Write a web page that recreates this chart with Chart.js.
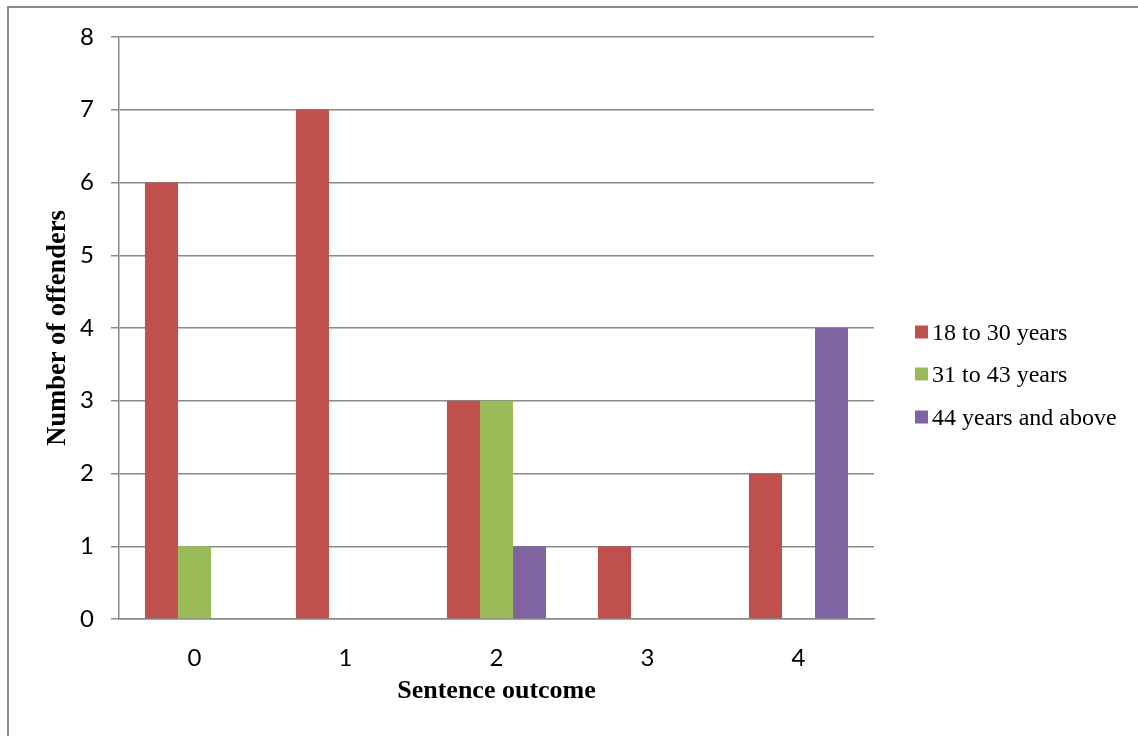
<!DOCTYPE html>
<html>
<head>
<meta charset="utf-8">
<script src="https://cdn.jsdelivr.net/npm/chart.js@4"></script>
<style>
  html, body { margin: 0; padding: 0; background: #fff; }
  #wrap { width: 1138px; height: 736px; position: relative; }
</style>
</head>
<body>
<div id="wrap"><canvas id="c" width="1138" height="736"></canvas></div>
<script>
const categories = ["0", "1", "2", "3", "4"];
const seriesNames = ["18 to 30 years", "31 to 43 years", "44 years and above"];
const age18to30 = [6, 7, 3, 1, 2];
const age31to43 = [1, 0, 3, 0, 0];
const age44plus = [0, 0, 1, 0, 4];
const colors = ["#C0504D", "#9BBB59", "#8064A2"];
const yMax = 8;

const frame = {
  id: 'frame',
  beforeDraw(chart) {
    const ctx = chart.ctx;
    ctx.save();
    ctx.fillStyle = '#fff';
    ctx.fillRect(0, 0, chart.width, chart.height);
    ctx.strokeStyle = '#8a8a8a';
    ctx.lineWidth = 2;
    ctx.beginPath();
    ctx.moveTo(8, chart.height);
    ctx.lineTo(8, 7);
    ctx.lineTo(chart.width, 7);
    ctx.stroke();
    ctx.restore();
  }
};

const sideLegend = {
  id: 'sideLegend',
  afterDraw(chart) {
    const ctx = chart.ctx;
    ctx.save();
    ctx.font = '24px "Liberation Serif", "Times New Roman", serif';
    ctx.textBaseline = 'alphabetic';
    ctx.textAlign = 'left';
    const rows = [332, 374, 417];
    chart.data.datasets.forEach((ds, i) => {
      const y = rows[i];
      ctx.fillStyle = ds.backgroundColor;
      ctx.fillRect(915, y - 6.5, 13, 13);
      ctx.fillStyle = '#000';
      ctx.fillText(ds.label, 932, y + 7.5);
    });
    ctx.restore();
  }
};

new Chart(document.getElementById('c'), {
  type: 'bar',
  data: {
    labels: categories,
    datasets: [
      { label: seriesNames[0], data: age18to30, backgroundColor: colors[0] },
      { label: seriesNames[1], data: age31to43, backgroundColor: colors[1] },
      { label: seriesNames[2], data: age44plus, backgroundColor: colors[2] }
    ]
  },
  options: {
    responsive: false,
    animation: false,
    devicePixelRatio: 1,
    layout: { padding: { top: 37, right: 264, bottom: 0, left: 0 } },
    datasets: { bar: { categoryPercentage: 0.656, barPercentage: 1, borderWidth: 0 } },
    plugins: { legend: { display: false }, tooltip: { enabled: false } },
    scales: {
      x: {
        grid: { display: false },
        border: { display: true, color: '#8a8a8a', width: 1.5 },
        ticks: { color: '#000', padding: 17, font: { family: 'Lato, "Open Sans", sans-serif', size: 24 } },
        title: {
          display: true, text: 'Sentence outcome', color: '#000',
          font: { family: '"Liberation Serif", "Times New Roman", serif', size: 26, weight: 'bold' },
          padding: { top: 0, bottom: 29 }
        },
        afterFit(scale) { scale.height = 117; }
      },
      y: {
        min: 0, max: yMax,
        ticks: { stepSize: 1, color: '#000', padding: 17, font: { family: 'Lato, "Open Sans", sans-serif', size: 24 } },
        grid: { color: '#8a8a8a', lineWidth: 1.5, tickLength: 8 },
        border: { display: true, color: '#8a8a8a', width: 1.5 },
        title: {
          display: true, text: 'Number of offenders', color: '#000',
          font: { family: '"Liberation Serif", "Times New Roman", serif', size: 26.5, weight: 'bold' },
          padding: { top: 42, bottom: 0 }
        },
        afterFit(scale) { scale.width = 119; }
      }
    }
  },
  plugins: [frame, sideLegend]
});
</script>
</body>
</html>
